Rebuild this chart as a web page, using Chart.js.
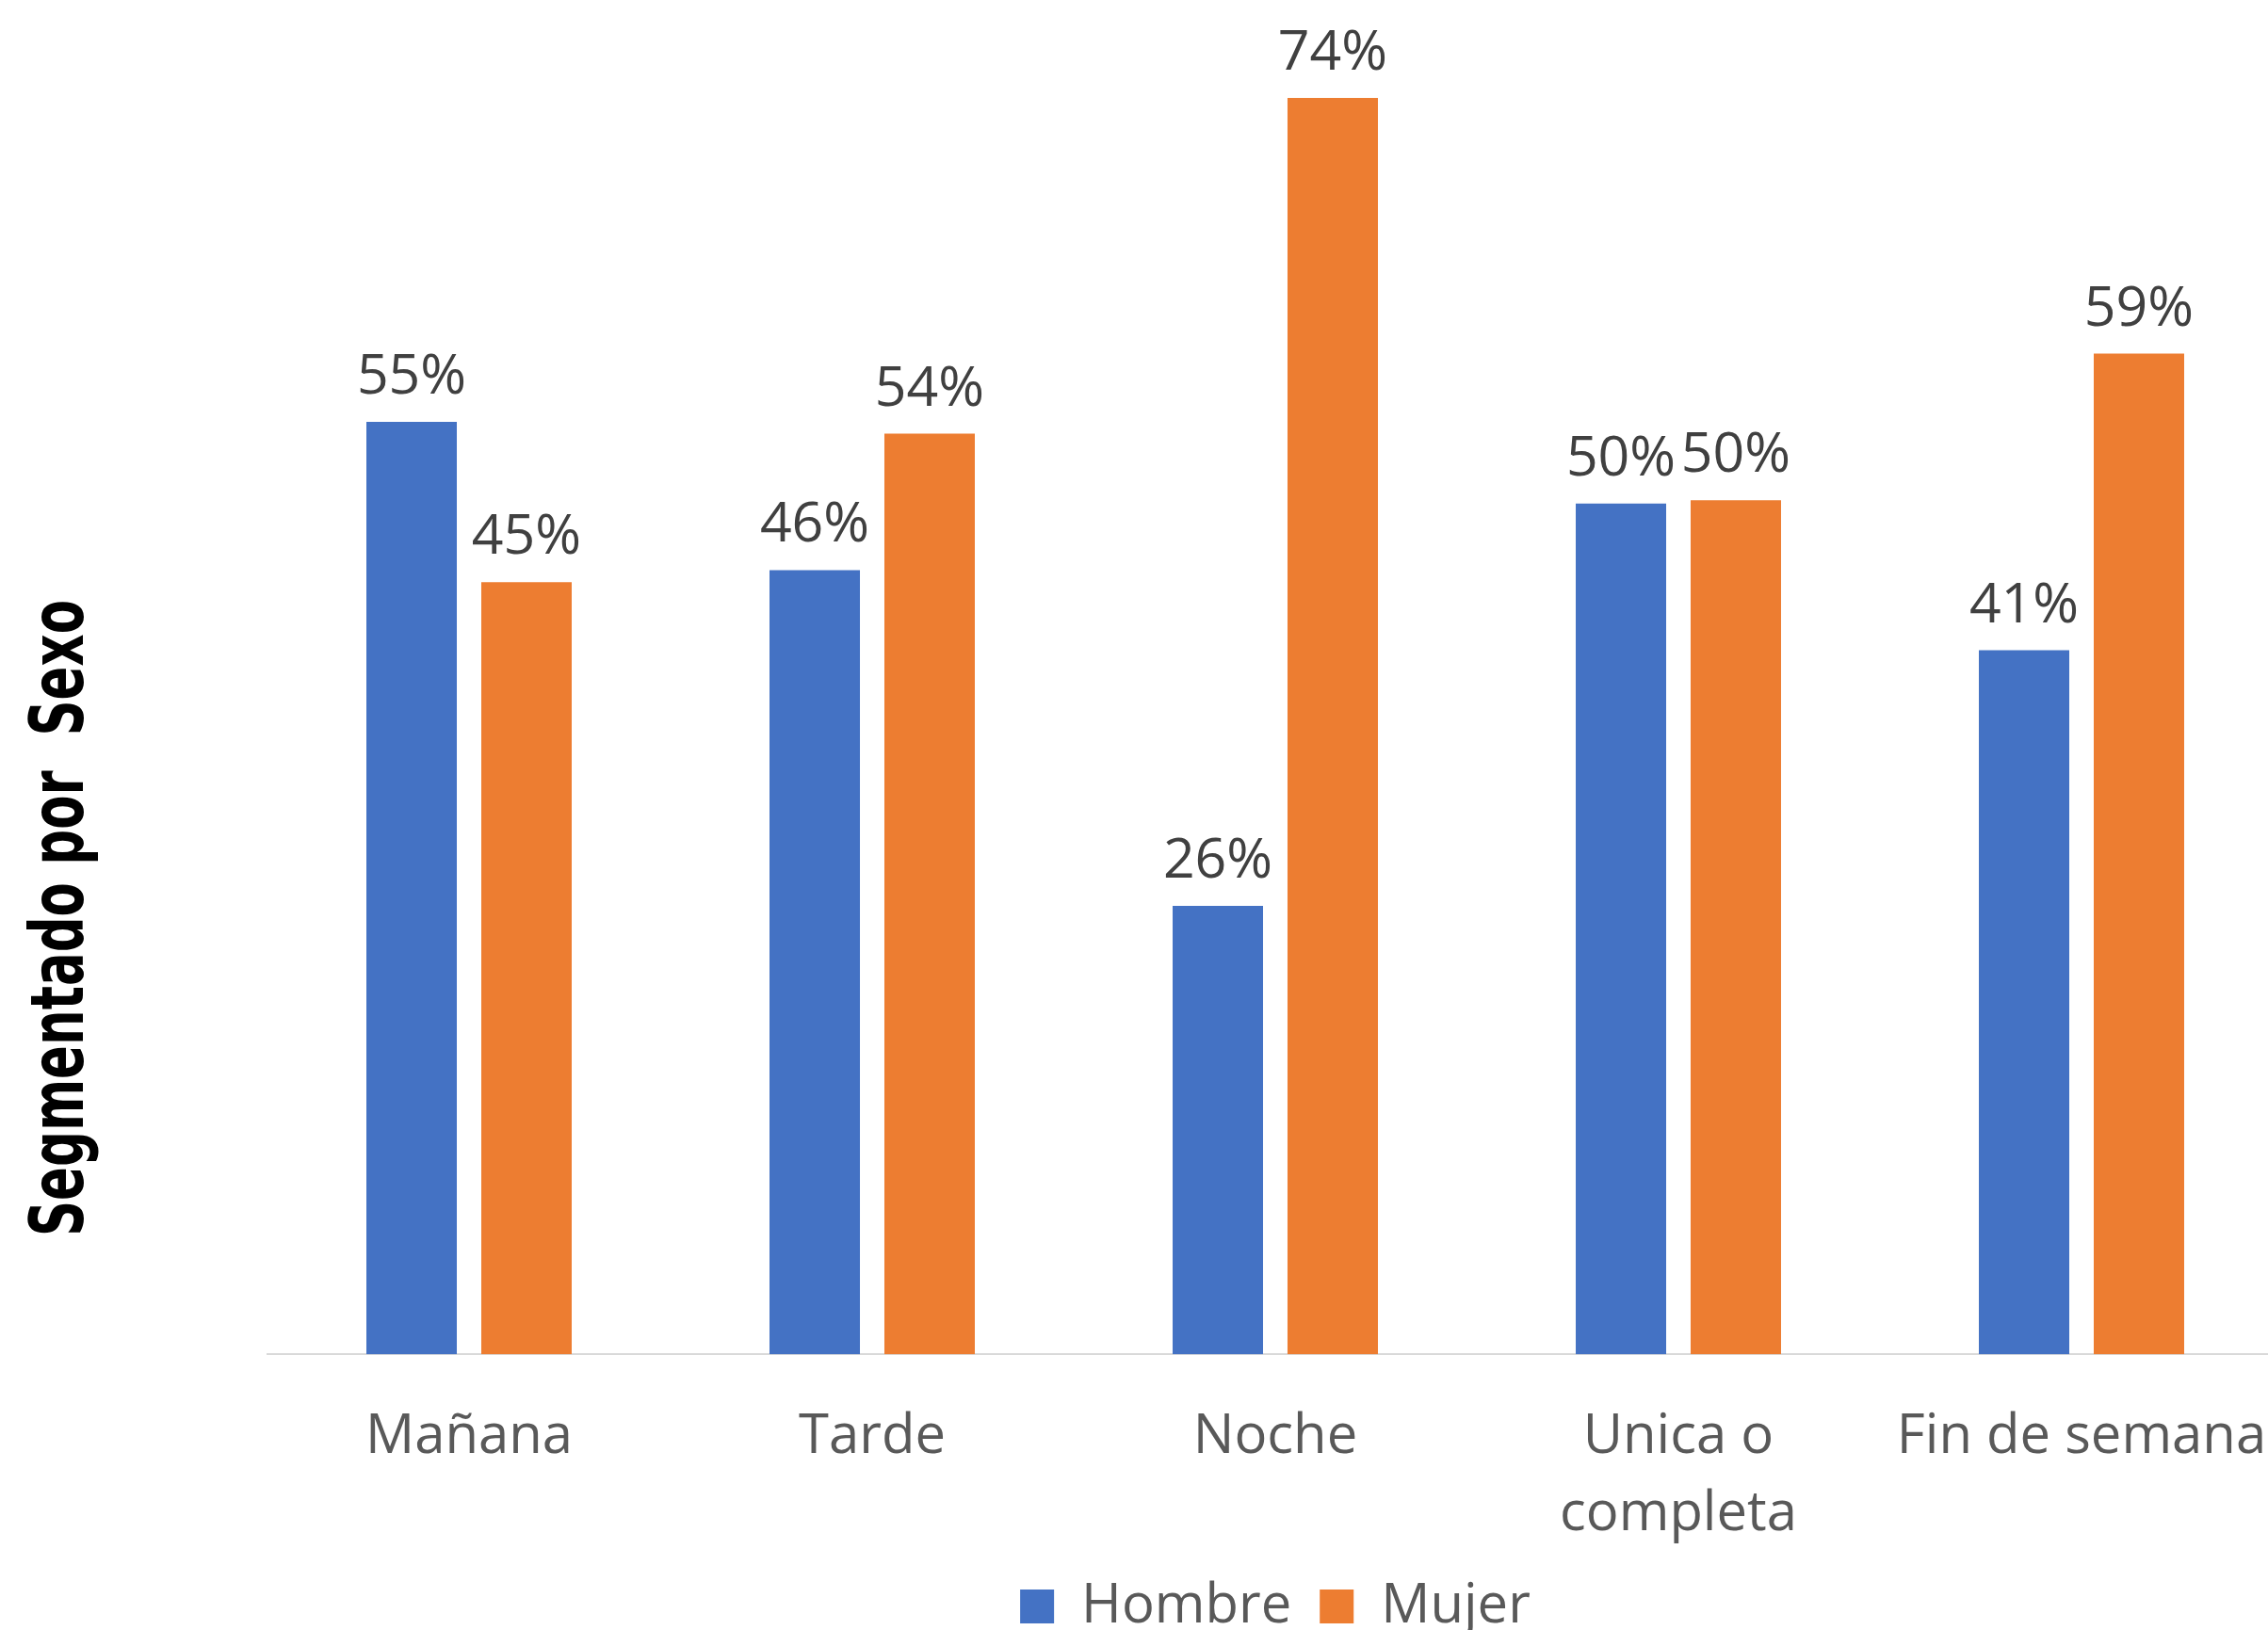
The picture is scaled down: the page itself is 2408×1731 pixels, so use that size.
<!DOCTYPE html>
<html lang="es">
<head>
<meta charset="utf-8">
<title>Segmentado por Sexo</title>
<script src="https://cdn.jsdelivr.net/npm/chart.js@4.4.1/dist/chart.umd.min.js"></script>
<style>
    html, body { margin: 0; padding: 0; background: #ffffff; overflow: hidden; }
    #grafico { position: absolute; left: 0; top: 0; }
</style>
</head>
<body>
<canvas id="grafico" width="2424" height="1745"></canvas>
<script>
// Datos del gráfico (porcentajes)
const categorias = ['Mañana', 'Tarde', 'Noche', ['Unica o', 'completa'], 'Fin de semana'];
const series = ['Hombre', 'Mujer'];
const hombre = [54.7, 46.0, 26.3, 49.9, 41.3];
const mujer = [45.3, 54.0, 73.7, 50.1, 58.7];

const colores = ['#4472C4', '#ED7D31'];
const tituloEje = 'Segmentado por  Sexo';

document.addEventListener('DOMContentLoaded', function() {
    // Etiquetas de valor encima de cada barra
    const etiquetasBarras = {
        id: 'etiquetasBarras',
        afterDatasetsDraw(chart) {
            const ctx = chart.ctx;
            ctx.save();
            ctx.font = '59px "Open Sans", sans-serif';
            ctx.fillStyle = '#404040';
            ctx.textAlign = 'center';
            ctx.textBaseline = 'alphabetic';
            chart.data.datasets.forEach((ds, i) => {
                chart.getDatasetMeta(i).data.forEach((bar, j) => {
                    ctx.fillText(Math.round(ds.data[j]) + '%', bar.x, bar.y - 30);
                });
            });
            ctx.restore();
        }
    };

    // Titulo vertical del eje Y (letra condensada y gruesa)
    const tituloVertical = {
        id: 'tituloVertical',
        afterDraw(chart) {
            const ctx = chart.ctx;
            ctx.save();
            ctx.font = 'bold 78px "DejaVu Sans Condensed", "DejaVu Sans", sans-serif';
            if ('fontStretch' in ctx) ctx.fontStretch = 'condensed';
            const ancho = ctx.measureText(tituloEje).width;
            ctx.translate(88, 975);
            ctx.rotate(-Math.PI / 2);
            ctx.scale(676 / ancho, 1);
            ctx.fillStyle = '#000000';
            ctx.textAlign = 'center';
            ctx.textBaseline = 'alphabetic';
            ctx.fillText(tituloEje, 0, 0);
            ctx.restore();
        }
    };

    const ctx = document.getElementById('grafico').getContext('2d');
    new Chart(ctx, {
        type: 'bar',
        data: {
            labels: categorias,
            datasets: [
                {
                    label: series[0],
                    data: hombre,
                    backgroundColor: colores[0],
                    borderWidth: 0,
                    categoryPercentage: 0.57,
                    barPercentage: 0.787
                },
                {
                    label: series[1],
                    data: mujer,
                    backgroundColor: colores[1],
                    borderWidth: 0,
                    categoryPercentage: 0.57,
                    barPercentage: 0.787
                }
            ]
        },
        options: {
            responsive: false,
            animation: false,
            layout: {
                padding: { left: 284, right: 0, top: 8, bottom: 0 }
            },
            scales: {
                x: {
                    grid: { display: false, drawTicks: false },
                    border: { display: true, color: '#d9d9d9', width: 2 },
                    ticks: {
                        color: '#595959',
                        font: { family: 'Open Sans', size: 58, lineHeight: 1.42 },
                        padding: 47,
                        maxRotation: 0,
                        autoSkip: false
                    },
                    afterFit(scale) {
                        // acercar la leyenda a las etiquetas y no recortar el area
                        scale.height -= 50;
                        scale.paddingLeft = 0;
                        scale.paddingRight = 0;
                    }
                },
                y: {
                    display: false,
                    min: 0,
                    max: 79
                }
            },
            plugins: {
                legend: {
                    position: 'bottom',
                    fullSize: false,
                    labels: {
                        color: '#595959',
                        font: { family: 'Open Sans', size: 58 },
                        boxWidth: 36,
                        boxHeight: 36,
                        padding: 30
                    }
                },
                tooltip: { enabled: false }
            }
        },
        plugins: [etiquetasBarras, tituloVertical]
    });
});
</script>
</body>
</html>
